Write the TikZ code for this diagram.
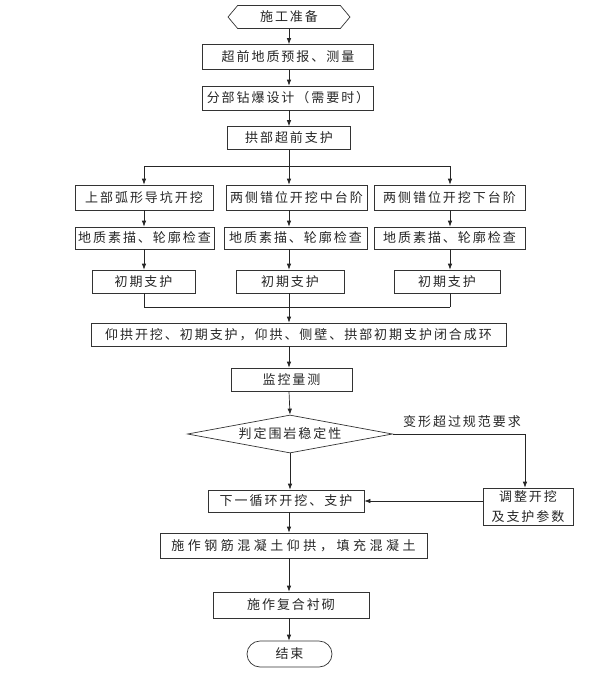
\documentclass[tikz,border=0pt]{standalone}
\usepackage{fontspec}
\newfontfamily\cjk[LetterSpace=15]{Noto Sans CJK SC}
\newfontfamily\cjkwide[LetterSpace=27]{Noto Sans CJK SC}
\usetikzlibrary{arrows.meta}
\usetikzlibrary{shapes.geometric, shapes.symbols}

\begin{document}
\begin{tikzpicture}[
    x=1pt, y=-1pt,
    every node/.style={font=\cjk\fontsize{13}{15}\selectfont, text=black!85},
    procbox/.style={draw=black!80, line width=0.7pt, inner sep=0pt, minimum height=23},
    startbox/.style={signal, signal to=west and east, signal pointer angle=100, draw=black!80, line width=0.7pt, inner sep=0pt, minimum height=23},
    checkbox/.style={diamond, aspect=5.4, draw=black!80, line width=0.7pt, inner sep=0pt, minimum width=205, minimum height=38},
    endbox/.style={rounded corners=13, draw=black!80, line width=0.7pt, inner sep=0pt, minimum height=26},
    arr/.style={-{Latex[length=6pt,width=4.5pt]}, line width=0.7pt, draw=black!85},
    link/.style={line width=0.7pt, draw=black!85}
]
\useasboundingbox (0,0) rectangle (595,681);

% Top: preparation
\coordinate (axis) at (289,0);
\node[startbox, minimum width=122] (prep) at (289,17) {施工准备};
\node[procbox, minimum width=171, minimum height=25] (forecast) at (288,57) {超前地质预报、测量};
\node[procbox, minimum width=171, minimum height=24] (blast) at (288,98) {分部钻爆设计（需要时）};
\node[procbox, minimum width=123] (arch) at (289,138) {拱部超前支护};

\draw[arr] (prep.south -| axis) -- (forecast.north -| axis);
\draw[arr] (forecast.south -| axis) -- (blast.north -| axis);
\draw[arr] (blast.south -| axis) -- (arch.north -| axis);

% Middle: three benches
\coordinate (colA) at (144,166);
\coordinate (colB) at (289,166);
\coordinate (colC) at (450,166);

\node[procbox, minimum width=138, minimum height=25] (upper) at (144,197.5) {上部弧形导坑开挖};
\node[procbox, minimum width=141, minimum height=25] (middle) at (296.5,197.5) {两侧错位开挖中台阶};
\node[procbox, minimum width=151, minimum height=25] (lower) at (449.5,197.5) {两侧错位开挖下台阶};

\node[procbox, minimum width=139, minimum height=22] (sketchA) at (144.5,238) {地质素描、轮廓检查};
\node[procbox, minimum width=143, minimum height=22] (sketchB) at (295.5,238) {地质素描、轮廓检查};
\node[procbox, minimum width=151, minimum height=22] (sketchC) at (449.5,238) {地质素描、轮廓检查};

\node[procbox, minimum width=103] (supportA) at (143.5,281.5) {初期支护};
\node[procbox, minimum width=108] (supportB) at (290,281.5) {初期支护};
\node[procbox, minimum width=106] (supportC) at (447,281.5) {初期支护};

\draw[link] (arch.south -| axis) -- (colB);
\draw[link] (colA) -- (colC);
\draw[arr] (colA) -- (colA |- upper.north);
\draw[arr] (colB) -- (colB |- middle.north);
\draw[arr] (colC) -- (colC |- lower.north);

\draw[arr] (colA |- upper.south) -- (colA |- sketchA.north);
\draw[arr] (colB |- middle.south) -- (colB |- sketchB.north);
\draw[arr] (colC |- lower.south) -- (colC |- sketchC.north);

\draw[arr] (colA |- sketchA.south) -- (colA |- supportA.north);
\draw[arr] (colB |- sketchB.south) -- (colB |- supportB.north);
\draw[arr] (colC |- sketchC.south) -- (colC |- supportC.north);

% Merge into closed ring
\coordinate (mergeA) at (144,307);
\coordinate (mergeB) at (289,307);
\coordinate (mergeC) at (450,307);

\node[procbox, minimum width=415] (ring) at (298.5,334.5) {仰拱开挖、初期支护，仰拱、侧壁、拱部初期支护闭合成环};

\draw[link] (colA |- supportA.south) -- (mergeA);
\draw[link] (colB |- supportB.south) -- (mergeB);
\draw[link] (colC |- supportC.south) -- (mergeC);
\draw[link] (mergeA) -- (mergeC);
\draw[arr] (mergeB) -- (mergeB |- ring.north);

% Lower part: monitoring and decision
\node[procbox, minimum width=121] (monitor) at (291.5,379.5) {监控量测};
\node[checkbox] (judge) at (290,434) {判定围岩稳定性};
\node[procbox, minimum width=156, minimum height=22] (next) at (286,501) {下一循环开挖、支护};
\node[procbox, minimum width=90, minimum height=37, align=center, font=\cjk\fontsize{13}{20}\selectfont] (adjust) at (528,506.5) {调整开挖\\及支护参数};
\node (excess) at (462,422) {变形超过规范要求};
\coordinate (turn) at (525,434);

\draw[arr] (ring.south -| axis) -- (monitor.north -| axis);
\draw[arr] (monitor.south -| axis) -- (judge.north);
\draw[arr] (judge.south) -- (next.north -| judge.south);
\draw[link] (judge.east) -- (turn);
\draw[arr] (turn) -- (turn |- adjust.north);
\draw[arr] (adjust.west |- next.east) -- (next.east);

% Bottom: lining and end
\node[procbox, minimum width=267, minimum height=25, font=\cjkwide\fontsize{13}{15}\selectfont] (invert) at (293.5,545.5) {施作钢筋混凝土仰拱，填充混凝土};
\node[procbox, minimum width=156, minimum height=26] (lining) at (291,605) {施作复合衬砌};
\node[endbox, minimum width=85] (finish) at (289.5,654) {结束};

\draw[arr] (next.south -| axis) -- (invert.north -| axis);
\draw[arr] (invert.south -| axis) -- (lining.north -| axis);
\draw[arr] (lining.south -| axis) -- (finish.north -| axis);

\end{tikzpicture}
\end{document}
